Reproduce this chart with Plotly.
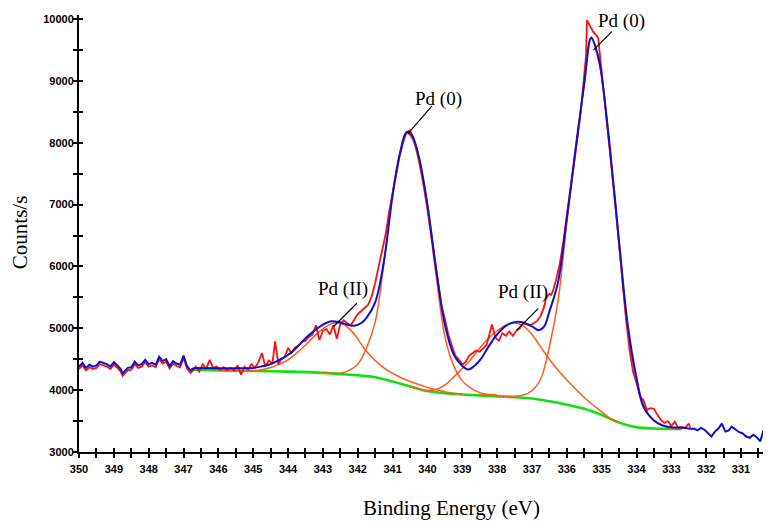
import plotly.graph_objects as go

# ---------------- data ----------------
# blue raw signal outside the fit window (left side)
BLUE_LEFT_X = [350.0, 349.9, 349.8, 349.7, 349.6, 349.5, 349.4, 349.3, 349.2, 349.1, 349.0,
               348.9, 348.8, 348.75, 348.6, 348.5, 348.4, 348.3, 348.2, 348.1, 348.0, 347.9,
               347.8, 347.7, 347.6, 347.5, 347.4, 347.3, 347.2, 347.1, 347.0, 346.9, 346.8, 346.7]
BLUE_LEFT_Y = [4380, 4440, 4360, 4410, 4380, 4400, 4460, 4440, 4420, 4380, 4450,
               4400, 4340, 4270, 4360, 4370, 4460, 4400, 4420, 4490, 4420, 4440,
               4410, 4540, 4470, 4500, 4390, 4470, 4430, 4410, 4560, 4390, 4320, 4360]

# red raw signal (left side, seen just under the blue one)
RED_LEFT_Y = [4340, 4400, 4320, 4370, 4340, 4360, 4420, 4400, 4380, 4340, 4410,
              4360, 4300, 4230, 4320, 4330, 4420, 4360, 4380, 4450, 4380, 4400,
              4370, 4500, 4430, 4460, 4350, 4430, 4390, 4370, 4520, 4350, 4280, 4330]

# red raw signal inside the fit window
RAW_X = [346.65, 346.55, 346.45, 346.35, 346.25, 346.15, 346.05, 345.95, 345.85, 345.75,
         345.65, 345.55, 345.45, 345.35, 345.25, 345.15, 345.05, 344.95, 344.85, 344.75,
         344.65, 344.55, 344.45, 344.37, 344.28, 344.2, 344.1, 344.0, 343.9, 343.8,
         343.7, 343.6, 343.5, 343.4, 343.3, 343.2, 343.1, 343.0, 342.9, 342.8,
         342.7, 342.6, 342.5, 342.4, 342.3, 342.2, 342.1, 342.0, 341.9, 341.8,
         341.7, 341.6, 341.5, 341.4, 341.3, 341.2, 341.1, 341.0, 340.9, 340.8,
         340.7, 340.6, 340.5, 340.4, 340.3, 340.2, 340.1, 340.0, 339.9, 339.8,
         339.7, 339.6, 339.5, 339.4, 339.3, 339.2, 339.1, 339.0, 338.9, 338.8,
         338.7, 338.6, 338.5, 338.4, 338.3, 338.2, 338.15, 338.05, 337.95, 337.85,
         337.75, 337.65, 337.55, 337.45, 337.35, 337.25, 337.15, 337.05, 336.95, 336.85,
         336.75, 336.65, 336.6, 336.5, 336.45, 336.4, 336.3, 336.2, 336.1, 336.0,
         335.9, 335.8, 335.7, 335.6, 335.5, 335.45, 335.42, 335.35, 335.25, 335.1,
         335.0, 334.9, 334.8, 334.7, 334.6, 334.5, 334.4, 334.3, 334.2, 334.1,
         334.0, 333.9, 333.8, 333.7, 333.6, 333.5, 333.4, 333.3, 333.2, 333.1,
         333.0, 332.9, 332.8, 332.7, 332.6, 332.5, 332.45]
RAW_Y = [4380, 4300, 4420, 4340, 4490, 4360, 4380, 4330, 4370, 4320,
         4360, 4310, 4400, 4250, 4380, 4330, 4420, 4360, 4450, 4600,
         4380, 4480, 4430, 4790, 4420, 4490, 4530, 4680, 4600, 4690,
         4720, 4780, 4800, 4860, 4900, 5050, 4810, 4960, 4990, 4900,
         5050, 4830, 5070, 5130, 5080, 5050, 5150, 5230, 5280, 5330,
         5380, 5520, 5730, 6000, 6250, 6520, 6880, 7200, 7500, 7780,
         8000, 8170, 8200, 8080, 7900, 7620, 7300, 6950, 6550, 6150,
         5720, 5380, 5150, 4900, 4720, 4560, 4500, 4410, 4460, 4560,
         4600, 4640, 4620, 4680, 4730, 4950, 5060, 4850, 4800, 4920,
         4880, 4950, 4880, 4960, 5000, 5080, 5060, 5050, 5080, 5120,
         5200, 5350, 5480, 5560, 5540, 5600, 5800, 6050, 6400, 6800,
         7200, 7600, 8050, 8500, 9050, 9400, 9980, 9900, 9800, 9700,
         9150, 8700, 8150, 7550, 6950, 6350, 5700, 5150, 4650, 4300,
         4120, 3900, 3840, 3680, 3710, 3700, 3600, 3520, 3470, 3500,
         3420, 3490, 3390, 3400, 3390, 3460, 3380]

# blue raw signal outside the fit window (right side)
BLUE_RIGHT_X = [332.45, 332.35, 332.25, 332.15, 332.05, 331.95, 331.85, 331.75, 331.65, 331.55,
                331.45, 331.35, 331.27, 331.15, 331.05, 330.95, 330.85, 330.75, 330.65, 330.55,
                330.45, 330.36, 330.25, 330.15]
BLUE_RIGHT_Y = [3370, 3380, 3350, 3390, 3360, 3300, 3250, 3330, 3380, 3460,
                3330, 3350, 3410, 3360, 3320, 3300, 3250, 3230, 3280, 3240,
                3170, 3340, 3380, 3340]

# fitted envelope (blue)
ENV_X = [346.7, 346.0, 345.5, 345.0, 344.75, 344.5, 344.25, 344.0, 343.75, 343.5,
         343.25, 343.0, 342.75, 342.5, 342.25, 342.1, 341.9, 341.75, 341.5, 341.25,
         341.0, 340.8, 340.6, 340.45, 340.25, 340.0, 339.75, 339.5, 339.25, 339.0,
         338.85, 338.75, 338.5, 338.25, 338.0, 337.75, 337.5, 337.25, 337.0, 336.8,
         336.65, 336.5, 336.25, 336.0, 335.75, 335.5, 335.3, 335.1, 335.0, 334.75,
         334.5, 334.25, 334.0, 333.8, 333.5, 333.25, 333.0, 332.7, 332.45]
ENV_Y = [4360, 4355, 4355, 4360, 4385, 4420, 4490, 4570, 4690, 4840,
         4960, 5060, 5115, 5095, 5050, 5040, 5085, 5170, 5420, 6080,
         7150, 7800, 8170, 8120, 7780, 7000, 5950, 5060, 4580, 4390,
         4335, 4350, 4480, 4700, 4900, 5040, 5100, 5095, 5030, 4970,
         5030, 5270, 5750, 6780, 7900, 8950, 9700, 9400, 9080, 7850,
         6400, 5050, 4200, 3730, 3510, 3430, 3400, 3395, 3370]

# Shirley-type background (green)
BG_X = [346.7, 346.0, 345.0, 344.0, 343.0, 342.5, 342.0, 341.5, 341.0, 340.5,
        340.0, 339.5, 339.0, 338.5, 338.0, 337.5, 337.0, 336.5, 336.0, 335.5,
        335.0, 334.5, 334.0, 333.5, 333.0, 332.7]
BG_Y = [4330, 4320, 4310, 4300, 4280, 4260, 4240, 4210, 4140, 4060,
        3985, 3950, 3930, 3915, 3900, 3885, 3865, 3820, 3765, 3700,
        3600, 3475, 3400, 3380, 3372, 3370]

# fitted components (orange), each sitting on the background
PD2_A_X = [346.0, 345.5, 345.0, 344.75, 344.5, 344.25, 344.0, 343.75, 343.5, 343.25,
           343.0, 342.75, 342.6, 342.4, 342.2, 342.0, 341.8, 341.5, 341.25, 341.0,
           340.75, 340.5, 340.25, 340.0, 339.75, 339.5, 339.25, 339.0]
PD2_A_Y = [4320, 4315, 4312, 4330, 4365, 4420, 4490, 4600, 4730, 4870,
           4990, 5075, 5090, 5060, 4970, 4830, 4660, 4480, 4360, 4270,
           4200, 4140, 4090, 4045, 4005, 3975, 3950, 3932]

PD0_B_X = [343.0, 342.5, 342.25, 342.0, 341.75, 341.5, 341.25, 341.0, 340.75, 340.6,
           340.45, 340.25, 340.0, 339.75, 339.5, 339.25, 339.0, 338.75, 338.5, 338.25, 338.0]
PD0_B_Y = [4285, 4275, 4320, 4420, 4680, 5100, 6050, 7200, 7900, 8150,
           8080, 7700, 6900, 5850, 4870, 4400, 4150, 4030, 3960, 3930, 3920]

PD2_C_X = [340.5, 340.0, 339.75, 339.5, 339.25, 339.0, 338.75, 338.5, 338.25, 338.0,
           337.75, 337.5, 337.25, 337.0, 336.75, 336.5, 336.25, 336.0, 335.75, 335.5,
           335.25, 335.0, 334.75, 334.5]
PD2_C_Y = [4065, 3995, 4010, 4080, 4210, 4350, 4500, 4680, 4840, 4960,
           5050, 5085, 5040, 4900, 4700, 4500, 4320, 4165, 4020, 3880,
           3760, 3650, 3540, 3480]

PD0_D_X = [338.5, 338.0, 337.5, 337.25, 337.0, 336.75, 336.5, 336.25, 336.0, 335.75,
           335.5, 335.3, 335.1, 335.0, 334.75, 334.5, 334.25, 334.0, 333.75, 333.5,
           333.25, 333.0, 332.7]
PD0_D_Y = [3925, 3910, 3900, 3920, 3990, 4180, 4700, 5450, 6700, 7850,
           8950, 9680, 9350, 9080, 7800, 6350, 4950, 4180, 3700, 3510,
           3420, 3385, 3375]

# peak labels: text, point (eV, counts), leader tail offset (px), text offset (px)
LABELS = ["Pd (0)", "Pd (0)", "Pd (II)", "Pd (II)"]
LABEL_X = [340.55, 335.24, 342.70, 337.44]
LABEL_Y = [8150, 9496, 5025, 4971]
LEADER_DX = [25, 20, 25, 23]
LEADER_DY = [-29, -20, -25, -23]
TEXT_DX = [30, 28, 10, 6]
TEXT_DY = [-34, -29, -38, -38]

X_RANGE = [350, 330.14]
Y_RANGE = [3000, 10065]

# ---------------- figure ----------------
ORANGE = "#FF5A1A"
BLUE = "#1010C8"
fig = go.Figure()

fig.add_trace(go.Scatter(x=BG_X, y=BG_Y, mode="lines", line=dict(color="#10E010", width=2.6, shape="spline"),
                         hoverinfo="skip", showlegend=False))
for cx, cy in [(PD2_A_X, PD2_A_Y), (PD0_B_X, PD0_B_Y), (PD2_C_X, PD2_C_Y), (PD0_D_X, PD0_D_Y)]:
    fig.add_trace(go.Scatter(x=cx, y=cy, mode="lines", line=dict(color=ORANGE, width=1.5, shape="spline"),
                             hoverinfo="skip", showlegend=False))

fig.add_trace(go.Scatter(x=BLUE_LEFT_X + RAW_X, y=RED_LEFT_Y + RAW_Y, mode="lines",
                         line=dict(color="#FF1010", width=1.8), hoverinfo="skip", showlegend=False))
fig.add_trace(go.Scatter(x=BLUE_LEFT_X, y=BLUE_LEFT_Y, mode="lines",
                         line=dict(color=BLUE, width=2), hoverinfo="skip", showlegend=False))
fig.add_trace(go.Scatter(x=ENV_X, y=ENV_Y, mode="lines",
                         line=dict(color=BLUE, width=2, shape="spline"), hoverinfo="skip", showlegend=False))
fig.add_trace(go.Scatter(x=BLUE_RIGHT_X, y=BLUE_RIGHT_Y, mode="lines",
                         line=dict(color=BLUE, width=2), hoverinfo="skip", showlegend=False))
# invisible trace to carry the twin axes (inside half of the crossing ticks)
fig.add_trace(go.Scatter(x=BG_X, y=BG_Y, xaxis="x2", yaxis="y2", mode="lines",
                         line=dict(width=0, color="rgba(0,0,0,0)"), hoverinfo="skip", showlegend=False))

tickfont = dict(family="Liberation Sans, Arial", size=11, color="black", weight="bold")

# the page body adds an 8px offset, so the figure is 8px smaller and margins shifted
fig.update_layout(
    width=763, height=515, autosize=False,
    margin=dict(l=71, r=0, t=7, b=71, autoexpand=False),
    paper_bgcolor="white", plot_bgcolor="white",
    xaxis=dict(range=X_RANGE, showgrid=False, zeroline=False, showline=True, linecolor="black", linewidth=2,
               ticks="outside", ticklen=4, tickwidth=1.5, tickcolor="black", dtick=1, tick0=350,
               minor=dict(ticks="outside", ticklen=4, tickwidth=1.5, tickcolor="black", dtick=0.5, showgrid=False),
               tickfont=tickfont, ticklabelstandoff=2),
    yaxis=dict(range=Y_RANGE, showgrid=False, zeroline=False, showline=True, linecolor="black", linewidth=2,
               ticks="outside", ticklen=4, tickwidth=1.5, tickcolor="black", dtick=1000, tick0=0,
               tickformat="d",
               minor=dict(ticks="outside", ticklen=4, tickwidth=1.5, tickcolor="black", dtick=500, showgrid=False),
               tickfont=tickfont, ticklabelstandoff=-3),
    xaxis2=dict(range=X_RANGE, overlaying="x", anchor="y", side="bottom", showgrid=False, zeroline=False,
                showline=False, ticks="inside", ticklen=4, tickwidth=1.5, tickcolor="black", dtick=0.5, tick0=350,
                showticklabels=False),
    yaxis2=dict(range=Y_RANGE, overlaying="y", anchor="x", side="left", showgrid=False, zeroline=False,
                showline=False, ticks="inside", ticklen=4, tickwidth=1.5, tickcolor="black", dtick=500, tick0=0,
                showticklabels=False),
)

annotations = []
for t, px, py, ldx, ldy, tdx, tdy in zip(LABELS, LABEL_X, LABEL_Y, LEADER_DX, LEADER_DY, TEXT_DX, TEXT_DY):
    annotations.append(dict(x=px, y=py, xref="x", yref="y", text="", showarrow=True, arrowhead=0,
                            arrowwidth=1.2, arrowcolor="black", ax=ldx, ay=ldy, standoff=0, startstandoff=0))
    annotations.append(dict(x=px, y=py, xref="x", yref="y", text=t, showarrow=False,
                            xshift=tdx, yshift=-tdy, xanchor="center", yanchor="middle",
                            font=dict(family="Liberation Serif, Times New Roman", size=19, color="black")))
annotations.append(dict(x=-0.0853, y=0.503, xref="paper", yref="paper", text="Counts/s", showarrow=False,
                        textangle=-90, xanchor="center", yanchor="middle",
                        font=dict(family="Liberation Serif, Times New Roman", size=21, color="black")))
annotations.append(dict(x=0.539, y=-0.128, xref="paper", yref="paper", text="Binding Energy (eV)",
                        showarrow=False, xanchor="center", yanchor="middle",
                        font=dict(family="Liberation Serif, Times New Roman", size=21, color="black")))
fig.update_layout(annotations=annotations)

fig.write_html("out.html")
